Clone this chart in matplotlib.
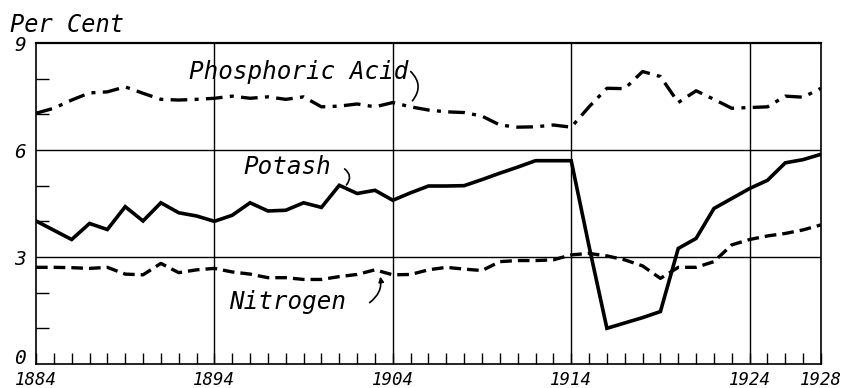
import matplotlib
matplotlib.use("Agg")
import matplotlib.pyplot as plt
from matplotlib.transforms import blended_transform_factory

years = list(range(1884, 1929))

phosphoric_acid = [7.03, 7.17, 7.40, 7.60, 7.63, 7.77, 7.59, 7.42, 7.40, 7.42,
                   7.45, 7.51, 7.45, 7.49, 7.42, 7.49, 7.21, 7.23, 7.29, 7.21,
                   7.33, 7.21, 7.12, 7.07, 7.05, 6.95, 6.70, 6.64, 6.65, 6.70,
                   6.64, 7.21, 7.73, 7.72, 8.20, 8.06, 7.33, 7.66, 7.42, 7.17,
                   7.19, 7.21, 7.51, 7.48, 7.73]

potash = [4.01, 3.75, 3.49, 3.94, 3.77, 4.41, 4.01, 4.52, 4.24, 4.15,
          4.00, 4.17, 4.52, 4.29, 4.31, 4.52, 4.39, 5.01, 4.78, 4.87,
          4.59, 4.80, 4.99, 4.99, 5.00, 5.17, 5.35, 5.52, 5.70, 5.70,
          5.70, 3.30, 1.00, 1.15, 1.30, 1.47, 3.24, 3.52, 4.36, 4.64,
          4.92, 5.15, 5.64, 5.73, 5.88]

nitrogen = [2.71, 2.71, 2.70, 2.68, 2.71, 2.52, 2.50, 2.82, 2.56, 2.64,
            2.68, 2.58, 2.52, 2.42, 2.42, 2.37, 2.37, 2.45, 2.51, 2.64,
            2.50, 2.51, 2.64, 2.71, 2.66, 2.62, 2.87, 2.90, 2.90, 2.92,
            3.06, 3.10, 3.03, 2.92, 2.75, 2.40, 2.71, 2.71, 2.87, 3.34,
            3.49, 3.59, 3.66, 3.76, 3.90]

x_labels = [1884, 1894, 1904, 1914, 1924, 1928]
y_labels = [0, 3, 6, 9]

# lettering-guide style: evenly spaced slanted characters
hand = dict(family="DejaVu Sans Mono", style="italic", color="black")

fig = plt.figure(figsize=(8.41, 3.88), dpi=100)
ax = fig.add_axes([0.0428, 0.0619, 0.9334, 0.8273])
ax.set_xlim(1884, 1928)
ax.set_ylim(0, 9)

# grid at the labelled divisions
for y in (3, 6):
    ax.axhline(y, color="black", lw=1.0, zorder=1)
for x in (1894, 1904, 1914, 1924):
    ax.axvline(x, color="black", lw=1.0, zorder=1)

for s in ax.spines.values():
    s.set_color("black")
    s.set_linewidth(1.2)
ax.spines["top"].set_linewidth(1.6)

# yearly ticks along the bottom, unit ticks up the left side
ax.set_xticks(years)
ax.set_xticklabels([])
ax.set_yticks([1, 2, 4, 5, 7, 8])
ax.set_yticklabels([])
ax.tick_params(axis="x", direction="in", length=8, width=1.0, top=False)
ax.tick_params(axis="y", direction="in", length=9, width=1.0, right=False)

ax.plot(years, phosphoric_acid, color="black", lw=2.4,
        dashes=(5, 2.2, 1.2, 2.2), zorder=3)
ax.plot(years, potash, color="black", lw=2.6, solid_joinstyle="miter", zorder=3)
ax.plot(years, nitrogen, color="black", lw=2.4, dashes=(3.5, 1.8), zorder=3)

for v in y_labels:
    # the bottom label sits a little above the baseline to clear the year row
    nudge = 0.14 if v == 0 else -0.08
    ax.text(-0.013, v + nudge, str(v), transform=ax.get_yaxis_transform(),
            ha="right", va="center", fontsize=14, **hand)

year_row = blended_transform_factory(ax.transData, fig.transFigure)
for yr in x_labels:
    ax.text(yr, 0.008, str(yr), transform=year_row,
            ha="center", va="baseline", fontsize=12.5, **hand)

fig.text(0.012, 0.936, "Per Cent", ha="left", va="center", fontsize=17, **hand)

ax.text(1892.6, 8.19, "Phosphoric Acid", ha="left", va="center", fontsize=17.5, **hand)
ax.text(1895.6, 5.52, "Potash", ha="left", va="center", fontsize=17.5, **hand)
ax.text(1894.8, 1.74, "Nitrogen", ha="left", va="center", fontsize=17.5, **hand)

ax.annotate("", xy=(1905.1, 7.38), xytext=(1905.0, 8.20),
            arrowprops=dict(arrowstyle="-", color="black", lw=1.2,
                            shrinkA=0, shrinkB=0,
                            connectionstyle="arc3,rad=-0.45"))
ax.annotate("", xy=(1901.4, 5.02), xytext=(1901.3, 5.47),
            arrowprops=dict(arrowstyle="-", color="black", lw=1.2,
                            shrinkA=0, shrinkB=0,
                            connectionstyle="arc3,rad=-0.5"))
ax.annotate("", xy=(1903.3, 2.45), xytext=(1902.7, 1.72),
            arrowprops=dict(arrowstyle="-|>,head_length=0.3,head_width=0.15",
                            color="black", lw=1.2, shrinkA=0, shrinkB=0,
                            connectionstyle="arc3,rad=0.3"))

fig.savefig("out.png", dpi=100)
